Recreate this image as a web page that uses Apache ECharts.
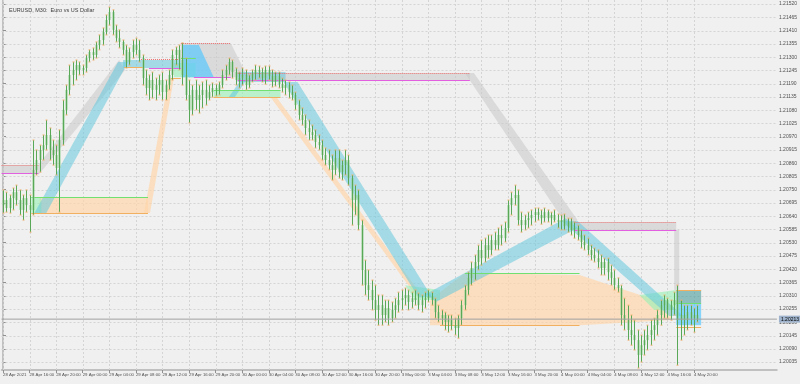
<!DOCTYPE html>
<html><head><meta charset="utf-8">
<script src="https://cdn.jsdelivr.net/npm/echarts@6/dist/echarts.min.js"></script>
<style>html,body{margin:0;padding:0;background:#f0f0f0}#c{width:800px;height:384px}</style>
</head><body><div id="c"></div>
<script>
const chartTitle = 'EURUSD, M30:  Euro vs US Dollar';
const timeLabels = ['28 Apr 2021','28 Apr 16:00','28 Apr 20:00','29 Apr 00:00','29 Apr 04:00','29 Apr 08:00','29 Apr 12:00','29 Apr 16:00','29 Apr 20:00','30 Apr 00:00','30 Apr 04:00','30 Apr 08:00','30 Apr 12:00','30 Apr 16:00','30 Apr 20:00','3 May 00:00','3 May 04:00','3 May 08:00','3 May 12:00','3 May 16:00','3 May 20:00','4 May 00:00','4 May 04:00','4 May 08:00','4 May 12:00','4 May 16:00','4 May 20:00'];
const timeTickIdx = [0,8,16,24,32,40,48,56,64,72,80,88,96,104,112,120,128,136,144,152,160,168,176,184,192,200,208];
const priceTicks = [1.20035,1.20090,1.20145,1.20200,1.20255,1.20310,1.20365,1.20420,1.20475,1.20530,1.20585,1.20640,1.20695,1.20750,1.20805,1.20860,1.20915,1.20970,1.21025,1.21080,1.21135,1.21190,1.21245,1.21300,1.21355,1.21410,1.21465,1.21520];
// [open, high, low, close] per M30 bar
const bars = [
[1.20686,1.20749,1.20653,1.20707],[1.20707,1.20740,1.20657,1.20674],[1.20674,1.20728,1.20653,1.20715],[1.20715,1.20757,1.20666,1.20740],
[1.20740,1.20769,1.20686,1.20707],[1.20707,1.20749,1.20645,1.20666],[1.20666,1.20728,1.20624,1.20715],[1.20715,1.20749,1.20657,1.20686],
[1.20686,1.20728,1.20574,1.20666],[1.20666,1.20956,1.20645,1.20832],[1.20832,1.20915,1.20811,1.20873],[1.20873,1.20935,1.20823,1.20915],
[1.20915,1.20977,1.20873,1.20935],[1.20935,1.21039,1.20915,1.20977],[1.20977,1.21006,1.20873,1.20915],[1.20915,1.20956,1.20852,1.20894],
[1.20894,1.20935,1.20811,1.20840],[1.20840,1.20998,1.20657,1.20956],[1.20956,1.21122,1.20935,1.21081],[1.21081,1.21184,1.21060,1.21164],
[1.21164,1.21267,1.21143,1.21226],[1.21226,1.21280,1.21184,1.21247],[1.21247,1.21288,1.21205,1.21267],[1.21267,1.21280,1.21226,1.21247],
[1.21247,1.21267,1.21226,1.21255],[1.21255,1.21309,1.21238,1.21296],[1.21296,1.21330,1.21280,1.21321],[1.21321,1.21338,1.21288,1.21309],
[1.21309,1.21363,1.21296,1.21350],[1.21350,1.21392,1.21330,1.21371],[1.21371,1.21421,1.21350,1.21404],[1.21404,1.21475,1.21392,1.21454],
[1.21454,1.21508,1.21433,1.21487],[1.21487,1.21496,1.21392,1.21413],[1.21413,1.21433,1.21363,1.21379],[1.21379,1.21413,1.21338,1.21363],
[1.21363,1.21371,1.21309,1.21330],[1.21330,1.21350,1.21255,1.21280],[1.21280,1.21338,1.21267,1.21321],[1.21321,1.21371,1.21296,1.21350],
[1.21350,1.21379,1.21309,1.21330],[1.21330,1.21371,1.21280,1.21296],[1.21296,1.21309,1.21184,1.21213],[1.21213,1.21247,1.21143,1.21172],
[1.21172,1.21226,1.21122,1.21205],[1.21205,1.21238,1.21130,1.21164],[1.21164,1.21213,1.21122,1.21184],[1.21184,1.21226,1.21143,1.21205],
[1.21205,1.21238,1.21122,1.21155],[1.21155,1.21205,1.21122,1.21184],[1.21184,1.21247,1.21164,1.21226],[1.21226,1.21330,1.21205,1.21309],
[1.21309,1.21342,1.21267,1.21330],[1.21330,1.21350,1.21247,1.21288],[1.21288,1.21359,1.21184,1.21226],[1.21226,1.21296,1.21122,1.21143],
[1.21143,1.21205,1.21027,1.21081],[1.21081,1.21184,1.21060,1.21164],[1.21164,1.21205,1.21081,1.21122],[1.21122,1.21184,1.21068,1.21143],
[1.21143,1.21197,1.21089,1.21164],[1.21164,1.21205,1.21101,1.21130],[1.21130,1.21184,1.21122,1.21155],[1.21155,1.21193,1.21134,1.21172],
[1.21172,1.21188,1.21139,1.21164],[1.21164,1.21197,1.21143,1.21184],[1.21184,1.21247,1.21172,1.21226],[1.21226,1.21267,1.21205,1.21247],
[1.21247,1.21296,1.21226,1.21280],[1.21280,1.21288,1.21213,1.21238],[1.21238,1.21255,1.21184,1.21205],[1.21205,1.21238,1.21172,1.21213],
[1.21213,1.21255,1.21184,1.21226],[1.21226,1.21247,1.21164,1.21184],[1.21184,1.21226,1.21172,1.21213],[1.21213,1.21247,1.21197,1.21230],
[1.21230,1.21267,1.21205,1.21247],[1.21247,1.21263,1.21213,1.21238],[1.21238,1.21255,1.21197,1.21213],[1.21213,1.21263,1.21188,1.21247],
[1.21247,1.21263,1.21205,1.21222],[1.21222,1.21247,1.21176,1.21197],[1.21197,1.21238,1.21180,1.21222],[1.21222,1.21238,1.21172,1.21188],
[1.21188,1.21213,1.21155,1.21172],[1.21172,1.21205,1.21143,1.21184],[1.21184,1.21197,1.21130,1.21155],[1.21155,1.21184,1.21122,1.21143],
[1.21143,1.21155,1.21081,1.21101],[1.21101,1.21122,1.21039,1.21060],[1.21060,1.21089,1.21018,1.21039],[1.21039,1.21060,1.20977,1.21006],
[1.21006,1.21039,1.20956,1.20989],[1.20989,1.21018,1.20956,1.20977],[1.20977,1.20998,1.20923,1.20948],[1.20948,1.20977,1.20915,1.20935],
[1.20935,1.20956,1.20873,1.20894],[1.20894,1.20923,1.20852,1.20873],[1.20873,1.20915,1.20832,1.20852],[1.20852,1.20894,1.20790,1.20832],
[1.20832,1.20915,1.20811,1.20881],[1.20881,1.20915,1.20798,1.20823],[1.20823,1.20873,1.20790,1.20852],[1.20852,1.20915,1.20811,1.20873],
[1.20873,1.20894,1.20769,1.20798],[1.20798,1.20811,1.20603,1.20707],[1.20707,1.20769,1.20645,1.20728],[1.20728,1.20749,1.20583,1.20603],
[1.20603,1.20624,1.20354,1.20417],[1.20417,1.20458,1.20313,1.20354],[1.20354,1.20417,1.20292,1.20334],[1.20334,1.20375,1.20251,1.20292],
[1.20292,1.20354,1.20209,1.20251],[1.20251,1.20313,1.20188,1.20271],[1.20271,1.20313,1.20188,1.20230],[1.20230,1.20292,1.20201,1.20259],
[1.20259,1.20292,1.20188,1.20217],[1.20217,1.20284,1.20201,1.20251],[1.20251,1.20300,1.20217,1.20271],[1.20271,1.20325,1.20242,1.20292],
[1.20292,1.20334,1.20251,1.20300],[1.20300,1.20342,1.20271,1.20313],[1.20313,1.20334,1.20251,1.20284],[1.20284,1.20325,1.20259,1.20300],
[1.20300,1.20334,1.20271,1.20292],[1.20292,1.20321,1.20251,1.20271],[1.20271,1.20313,1.20242,1.20292],[1.20292,1.20325,1.20259,1.20300],
[1.20300,1.20334,1.20284,1.20309],[1.20309,1.20325,1.20271,1.20292],[1.20292,1.20300,1.20217,1.20242],[1.20242,1.20271,1.20201,1.20217],
[1.20217,1.20251,1.20188,1.20230],[1.20230,1.20242,1.20168,1.20201],[1.20201,1.20230,1.20159,1.20209],[1.20209,1.20230,1.20168,1.20188],
[1.20188,1.20217,1.20147,1.20176],[1.20176,1.20230,1.20134,1.20217],[1.20217,1.20292,1.20188,1.20271],[1.20271,1.20354,1.20251,1.20334],
[1.20334,1.20408,1.20313,1.20384],[1.20384,1.20450,1.20354,1.20425],[1.20425,1.20479,1.20375,1.20450],[1.20450,1.20520,1.20417,1.20500],
[1.20500,1.20541,1.20437,1.20466],[1.20466,1.20549,1.20450,1.20520],[1.20520,1.20562,1.20466,1.20500],[1.20500,1.20562,1.20479,1.20541],
[1.20541,1.20574,1.20500,1.20520],[1.20520,1.20591,1.20500,1.20562],[1.20562,1.20603,1.20520,1.20549],[1.20549,1.20616,1.20533,1.20591],
[1.20591,1.20707,1.20574,1.20686],[1.20686,1.20740,1.20645,1.20715],[1.20715,1.20769,1.20686,1.20728],[1.20728,1.20749,1.20603,1.20624],
[1.20624,1.20657,1.20574,1.20603],[1.20603,1.20645,1.20583,1.20624],[1.20624,1.20657,1.20591,1.20632],[1.20632,1.20666,1.20603,1.20645],
[1.20645,1.20674,1.20616,1.20657],[1.20657,1.20674,1.20624,1.20645],[1.20645,1.20666,1.20607,1.20632],[1.20632,1.20674,1.20616,1.20657],
[1.20657,1.20666,1.20616,1.20632],[1.20632,1.20657,1.20603,1.20645],[1.20645,1.20666,1.20616,1.20624],[1.20624,1.20649,1.20591,1.20616],
[1.20616,1.20645,1.20583,1.20624],[1.20624,1.20649,1.20583,1.20599],[1.20599,1.20632,1.20574,1.20616],[1.20616,1.20632,1.20562,1.20583],
[1.20583,1.20616,1.20549,1.20591],[1.20591,1.20603,1.20541,1.20562],[1.20562,1.20583,1.20508,1.20533],[1.20533,1.20562,1.20500,1.20520],
[1.20520,1.20549,1.20479,1.20500],[1.20500,1.20520,1.20458,1.20479],[1.20479,1.20508,1.20450,1.20466],[1.20466,1.20500,1.20425,1.20450],
[1.20450,1.20479,1.20396,1.20425],[1.20425,1.20466,1.20396,1.20450],[1.20450,1.20466,1.20375,1.20408],[1.20408,1.20437,1.20354,1.20384],
[1.20384,1.20417,1.20334,1.20354],[1.20354,1.20384,1.20325,1.20342],[1.20342,1.20354,1.20188,1.20230],[1.20230,1.20300,1.20168,1.20209],
[1.20209,1.20271,1.20126,1.20168],[1.20168,1.20230,1.20105,1.20147],[1.20147,1.20209,1.20085,1.20126],[1.20126,1.20168,1.20010,1.20064],
[1.20064,1.20147,1.20035,1.20105],[1.20105,1.20168,1.20064,1.20126],[1.20126,1.20188,1.20085,1.20147],[1.20147,1.20209,1.20105,1.20168],
[1.20168,1.20217,1.20126,1.20188],[1.20188,1.20251,1.20147,1.20230],[1.20230,1.20292,1.20188,1.20271],[1.20271,1.20313,1.20217,1.20292],
[1.20292,1.20300,1.20217,1.20251],[1.20251,1.20292,1.20209,1.20271],[1.20271,1.20325,1.20230,1.20292],[1.20292,1.20354,1.20022,1.20209],
[1.20209,1.20292,1.20126,1.20230],[1.20230,1.20271,1.20147,1.20209],[1.20209,1.20271,1.20168,1.20242],[1.20242,1.20271,1.20188,1.20217],
[1.20217,1.20259,1.20159,1.20230],[1.20230,1.20271,1.20201,1.20213]
];
// overlay objects in [bar index, price]
const grayZones = [
[[-0.45,1.20852],[10.65,1.20852],[10.65,1.20819],[-0.45,1.20819]],
[[10.65,1.20852],[10.65,1.20811],[36.75,1.21247],[34.95,1.21288]],
[[53.55,1.21359],[68.55,1.21359],[73.35,1.21226],[70.65,1.21217],[53.55,1.21217]],
[[70.65,1.21234],[140.55,1.21234],[140.55,1.21205],[70.65,1.21205]],
[[139.05,1.21234],[141.75,1.21234],[172.95,1.20624],[170.25,1.20591]],
[[172.05,1.20616],[202.65,1.20616],[202.65,1.20583],[172.05,1.20583]],
[[202.05,1.20583],[203.55,1.20583],[203.55,1.20334],[202.05,1.20334]]
];
const peachZones = [
[[10.95,1.20719],[43.65,1.20719],[43.65,1.20653],[10.95,1.20653]],
[[42.45,1.20653],[44.25,1.20653],[51.45,1.21213],[49.95,1.21213]],
[[80.55,1.21134],[82.35,1.21134],[126.45,1.20304],[124.65,1.20304]],
[[128.55,1.20292],[139.05,1.20404],[173.55,1.20396],[201.15,1.20271],[201.15,1.20209],[173.55,1.20188],[128.55,1.20188]]
];
const mintZones = [
[[8.55,1.20719],[11.55,1.20719],[11.55,1.20653],[8.55,1.20653]],
[[51.45,1.21276],[58.05,1.21276],[58.05,1.21217],[51.45,1.21217]],
[[63.45,1.21164],[83.55,1.21164],[83.55,1.21134],[63.45,1.21134]],
[[121.05,1.20354],[131.55,1.20334],[131.55,1.20292],[124.05,1.20292]],
[[191.55,1.20313],[202.65,1.20334],[202.65,1.20251],[196.05,1.20251]]
];
const cyanBands = [
[[9.45,1.20653],[13.05,1.20653],[37.65,1.21280],[34.65,1.21280]],
[[36.15,1.21288],[53.55,1.21288],[53.55,1.21255],[36.15,1.21255]],
[[67.95,1.21134],[69.75,1.21134],[73.35,1.21205],[71.55,1.21205]],
[[70.65,1.21238],[85.05,1.21238],[85.05,1.21197],[70.65,1.21197]],
[[84.45,1.21197],[88.65,1.21197],[129.15,1.20304],[125.05,1.20304]],
[[127.35,1.20317],[130.35,1.20284],[172.95,1.20591],[169.35,1.20632]],
[[168.15,1.20620],[172.95,1.20620],[204.75,1.20226],[200.55,1.20226]]
];
const blueZones = [
[[54.15,1.21350],[58.95,1.21350],[63.45,1.21217],[54.15,1.21217]],
[[202.65,1.20279],[210.15,1.20279],[210.15,1.20188],[202.65,1.20188]]
];
const tealZones = [
[[202.65,1.20334],[210.15,1.20334],[210.15,1.20279],[202.65,1.20279]]
];
// levels: [from bar, to bar, price]
const redLevels = [[-0.45,10.65,1.20852],[40.95,53.55,1.21292],[53.55,68.55,1.21359],[70.65,140.55,1.21234],[172.05,202.65,1.20616]];
const magentaLevels = [[-0.45,10.65,1.20819],[43.95,53.55,1.21255],[57.45,68.55,1.21217],[70.65,140.55,1.21205],[172.05,202.65,1.20583]];
const greenLevels = [[8.55,43.65,1.20719],[53.55,58.05,1.21296],[63.45,83.55,1.21164],[139.05,173.55,1.20404],[202.65,210.15,1.20279]];
const orangeLevels = [[8.55,43.65,1.20653],[36.45,42.45,1.21259],[50.55,53.55,1.21213],[63.45,83.55,1.21134],[131.55,173.55,1.20188],[202.65,210.15,1.20334],[202.65,210.15,1.20180]];

const X_MIN = -0.45, X_MAX = 232.97, Y_MIN = 1.20002, Y_MAX = 1.21537;
const lastClose = bars[bars.length - 1][3];

function polySeries(polys, fill, z) {
  return { type: 'custom', z: z, silent: true, clip: true,
    data: polys.map((p, k) => [k]),
    renderItem(params, api) {
      const pts = polys[params.dataIndex].map(pt => api.coord(pt));
      return { type: 'polygon', shape: { points: pts }, style: { fill: fill } };
    } };
}
function levelSeries(levels, stroke, dash, z) {
  return { type: 'custom', z: z, silent: true,
    data: levels,
    renderItem(params, api) {
      const a = api.coord([api.value(0), api.value(2)]);
      const b = api.coord([api.value(1), api.value(2)]);
      const y = Math.round(a[1]) + 0.5;
      return { type: 'line', shape: { x1: a[0], y1: y, x2: b[0], y2: y }, style: { stroke: stroke, lineWidth: 1, lineDash: dash } };
    } };
}

const option = {
  backgroundColor: '#f0f0f0',
  animation: false,
  title: { text: chartTitle, left: 4, top: 2, textStyle: { fontSize: 5.5, fontWeight: 'normal', color: '#404040', fontFamily: 'Liberation Sans' } },
  grid: { left: 0, top: 0, right: 22, bottom: 14 },
  xAxis: { type: 'value', min: X_MIN, max: X_MAX,
    axisLine: { show: true, lineStyle: { color: '#b0b0b0', width: 1.5 } },
    axisTick: { show: true, customValues: timeTickIdx, length: 3, lineStyle: { color: '#909090' } },
    axisLabel: { customValues: timeTickIdx, showMinLabel: true, showMaxLabel: true, hideOverlap: false,
      formatter: v => timeLabels[timeTickIdx.indexOf(v)], align: 'left', fontSize: 4.3, color: '#505050', margin: 3, fontFamily: 'Liberation Sans' },
    splitLine: { show: false } },
  yAxis: { type: 'value', position: 'right', min: Y_MIN, max: Y_MAX, scale: true,
    axisLine: { show: true, lineStyle: { color: '#b0b0b0', width: 1.5 } },
    axisTick: { show: true, customValues: priceTicks, length: 3, lineStyle: { color: '#909090' } },
    axisLabel: { customValues: priceTicks, showMinLabel: true, showMaxLabel: true, formatter: v => v.toFixed(5), fontSize: 5, color: '#505050', margin: 2, fontFamily: 'Liberation Sans' },
    splitLine: { show: false } },
  series: [
    { type: 'custom', z: 1, silent: true, data: priceTicks.map(p => [p]),
      renderItem(params, api) {
        const a = api.coord([X_MIN, api.value(0)]), b = api.coord([X_MAX, api.value(0)]);
        const y = Math.round(a[1]) + 0.5;
        return { type: 'line', shape: { x1: a[0], y1: y, x2: b[0], y2: y }, style: { stroke: '#d4d4d4', lineWidth: 1, lineDash: [2, 2] } };
      } },
    { type: 'custom', z: 1, silent: true, data: timeTickIdx.map(t => [t]),
      renderItem(params, api) {
        const a = api.coord([api.value(0), Y_MAX]), b = api.coord([api.value(0), Y_MIN]);
        const x = Math.round(a[0]) + 0.5;
        return { type: 'line', shape: { x1: x, y1: a[1], x2: x, y2: b[1] }, style: { stroke: '#d4d4d4', lineWidth: 1, lineDash: [2, 2] } };
      } },
    polySeries(grayZones, 'rgba(200,200,200,0.55)', 2),
    polySeries(peachZones, 'rgba(255,214,170,0.7)', 3),
    polySeries(mintZones, 'rgba(150,240,180,0.6)', 4),
    polySeries(cyanBands, 'rgba(100,200,220,0.55)', 5),
    polySeries(blueZones, 'rgba(90,200,255,0.7)', 6),
    polySeries(tealZones, 'rgba(60,150,150,0.55)', 6),
    levelSeries(redLevels, '#f07070', [1, 1], 7),
    levelSeries(magentaLevels, '#e060e0', [], 7),
    levelSeries(greenLevels, '#70e070', [], 7),
    levelSeries(orangeLevels, '#f0b060', [], 7),
    { type: 'custom', z: 8, silent: true,
      data: bars.map((b, i) => [i, b[0], b[1], b[2], b[3]]),
      renderItem(params, api) {
        const i = api.value(0);
        const pO = api.coord([i, api.value(1)]), pH = api.coord([i, api.value(2)]);
        const pL = api.coord([i, api.value(3)]), pC = api.coord([i, api.value(4)]);
        const x = Math.round(pH[0]) + 0.5;
        const top = Math.min(pO[1], pC[1]), bot = Math.max(pO[1], pC[1]);
        return { type: 'group', children: [
          { type: 'rect', shape: { x: x - 1, y: top, width: 2, height: Math.max(1, bot - top) }, style: { fill: '#92d092', stroke: null } },
          { type: 'line', shape: { x1: x, y1: pH[1], x2: x, y2: pL[1] }, style: { stroke: '#58a858', lineWidth: 1 } },
          { type: 'line', shape: { x1: x - 1, y1: pH[1], x2: x + 1, y2: pH[1] }, style: { stroke: '#f0b070', lineWidth: 1 } },
          { type: 'line', shape: { x1: x - 1, y1: pL[1], x2: x + 1, y2: pL[1] }, style: { stroke: '#f0b070', lineWidth: 1 } }
        ] };
      } },
    { type: 'line', z: 9, silent: true, symbol: 'none',
      data: [[X_MIN, lastClose], [X_MAX, lastClose]],
      lineStyle: { color: '#a0a0a0', width: 1 },
      endLabel: { show: true, formatter: () => lastClose.toFixed(5), fontSize: 5, color: '#000', backgroundColor: '#9fb4cc', padding: [1, 2], distance: 2, fontFamily: 'Liberation Sans' } }
  ]
};
const chart = echarts.init(document.getElementById('c'));
chart.setOption(option);
</script></body></html>
